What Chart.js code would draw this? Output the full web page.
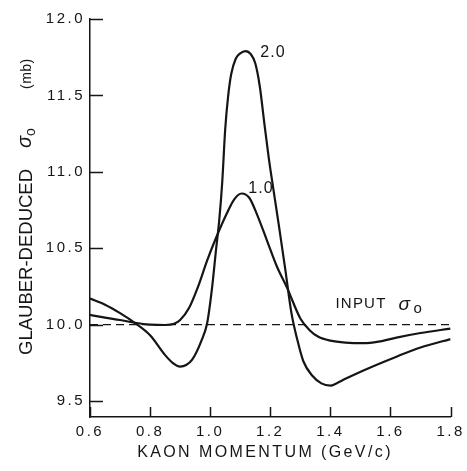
<!DOCTYPE html>
<html>
<head>
<meta charset="utf-8">
<script src="https://cdn.jsdelivr.net/npm/chart.js@4"></script>
<style>
html,body{margin:0;padding:0;background:#fff;}
#wrap{position:relative;width:467px;height:471px;}
</style>
</head>
<body>
<div id="wrap"><canvas id="c"></canvas></div>
<script>
// ---- data ----
const xTickValues = [0.6, 0.8, 1.0, 1.2, 1.4, 1.6, 1.8];
const yTickValues = [9.5, 10.0, 10.5, 11.0, 11.5, 12.0];

// curve labelled 2.0
const momentum20 = [0.60, 0.65, 0.70, 0.75, 0.80, 0.85, 0.875, 0.90, 0.92, 0.94, 0.97, 0.99, 1.005, 1.02, 1.03, 1.04, 1.05, 1.06, 1.07, 1.085, 1.10, 1.117, 1.135, 1.15, 1.165, 1.18, 1.195, 1.21, 1.23, 1.25, 1.27, 1.29, 1.31, 1.34, 1.37, 1.40, 1.42, 1.45, 1.51, 1.62, 1.70, 1.80];
const sigma20    = [10.17, 10.13, 10.075, 10.01, 9.93, 9.80, 9.75, 9.725, 9.735, 9.77, 9.89, 10.01, 10.22, 10.50, 10.68, 10.93, 11.28, 11.50, 11.64, 11.74, 11.775, 11.79, 11.77, 11.71, 11.56, 11.32, 11.09, 10.89, 10.63, 10.36, 10.08, 9.90, 9.76, 9.665, 9.615, 9.60, 9.615, 9.645, 9.70, 9.79, 9.85, 9.905];

// curve labelled 1.0
const momentum10 = [0.60, 0.65, 0.70, 0.75, 0.80, 0.85, 0.88, 0.90, 0.93, 0.96, 0.99, 1.02, 1.056, 1.08, 1.105, 1.13, 1.156, 1.189, 1.222, 1.256, 1.30, 1.33, 1.36, 1.40, 1.45, 1.51, 1.56, 1.62, 1.70, 1.80];
const sigma10    = [10.063, 10.045, 10.03, 10.012, 10.0, 9.997, 10.005, 10.03, 10.11, 10.25, 10.42, 10.57, 10.73, 10.82, 10.858, 10.83, 10.72, 10.55, 10.38, 10.24, 10.04, 9.965, 9.92, 9.895, 9.882, 9.878, 9.888, 9.915, 9.945, 9.974];

// input sigma_0 (dashed)
const inputMomentum = [0.6, 1.8];
const inputSigma    = [10.0, 10.0];

const xMin = 0.6, xMax = 1.8, yMin = 9.395, yMax = 12.0;

const toPts = (xs, ys) => xs.map((x, i) => ({x: x, y: ys[i]}));
const INK = '#151515';
const FONT = '"Liberation Sans", Arial, sans-serif';

const inkPlugin = {
  id: 'ink',
  beforeDraw(chart) {
    chart.ctx.letterSpacing = '2.5px';
  },
  afterDraw(chart) {
    const ctx = chart.ctx;
    const xs = chart.scales.x, ys = chart.scales.y;
    const a = chart.chartArea;
    ctx.save();
    ctx.strokeStyle = INK;
    ctx.lineWidth = 1.5;
    ctx.beginPath();
    yTickValues.forEach(v => {
      const py = Math.round(ys.getPixelForValue(v)) + 0.5;
      ctx.moveTo(a.left, py); ctx.lineTo(a.left + 13, py);
    });
    xTickValues.forEach(v => {
      const px = Math.round(xs.getPixelForValue(v)) + 0.5;
      ctx.moveTo(px, a.bottom); ctx.lineTo(px, a.bottom - 10);
    });
    ctx.stroke();

    ctx.fillStyle = INK;
    ctx.textBaseline = 'alphabetic';

    // x axis title
    ctx.font = '16px ' + FONT;
    ctx.letterSpacing = '2.4px';
    ctx.textAlign = 'center';
    ctx.fillText('KAON MOMENTUM (GeV/c)', 265, 457);

    // y axis title (rotated)
    ctx.save();
    ctx.translate(32, 355);
    ctx.rotate(-Math.PI / 2);
    ctx.textAlign = 'left';
    ctx.letterSpacing = '0px';
    ctx.font = '18.5px ' + FONT;
    ctx.fillText('GLAUBER-DEDUCED', 0, 0);
    ctx.font = 'italic 20px ' + FONT;
    ctx.fillText('σ', 207, -1);
    ctx.font = '14px ' + FONT;
    ctx.fillText('o', 219, 3);
    ctx.letterSpacing = '0.5px';
    ctx.fillText('(mb)', 266, -1);
    ctx.restore();

    // curve labels
    ctx.textAlign = 'left';
    ctx.font = '16px ' + FONT;
    ctx.letterSpacing = '1px';
    ctx.fillText('2.0', xs.getPixelForValue(1.167), ys.getPixelForValue(11.75));
    ctx.fillText('1.0', xs.getPixelForValue(1.127), ys.getPixelForValue(10.86));

    ctx.font = '15px ' + FONT;
    ctx.letterSpacing = '1.2px';
    ctx.fillText('INPUT', xs.getPixelForValue(1.417), ys.getPixelForValue(10.109));
    ctx.letterSpacing = '0px';
    ctx.font = 'italic 19px ' + FONT;
    ctx.fillText('σ', xs.getPixelForValue(1.627), ys.getPixelForValue(10.096));
    ctx.font = '15px ' + FONT;
    ctx.fillText('o', xs.getPixelForValue(1.677), ys.getPixelForValue(10.076));
    ctx.restore();
  }
};

new Chart(document.getElementById('c'), {
  type: 'line',
  data: {
    datasets: [
      {
        label: '2.0',
        data: toPts(momentum20, sigma20),
        borderColor: INK, borderWidth: 2.2, pointRadius: 0,
        cubicInterpolationMode: 'monotone', fill: false
      },
      {
        label: '1.0',
        data: toPts(momentum10, sigma10),
        borderColor: INK, borderWidth: 2.2, pointRadius: 0,
        cubicInterpolationMode: 'monotone', fill: false
      },
      {
        label: 'INPUT',
        data: toPts(inputMomentum, inputSigma),
        borderColor: INK, borderWidth: 1.3, pointRadius: 0,
        borderDash: [8, 5], fill: false, tension: 0
      }
    ]
  },
  options: {
    responsive: true,
    maintainAspectRatio: false,
    animation: false,
    devicePixelRatio: 1,
    layout: { padding: { left: 0, right: 16, top: 19, bottom: 0 } },
    plugins: { legend: { display: false }, tooltip: { enabled: false } },
    scales: {
      x: {
        type: 'linear', min: xMin, max: xMax,
        afterBuildTicks: s => { s.ticks = xTickValues.map(v => ({value: v})); },
        afterFit: s => { s.height = 54; },
        grid: { drawOnChartArea: false, drawTicks: false },
        border: { display: true, color: INK, width: 1.5 },
        ticks: {
          color: INK, padding: 6, maxRotation: 0, autoSkip: false,
          font: { family: FONT, size: 15 },
          callback: v => Number(v).toFixed(1)
        }
      },
      y: {
        type: 'linear', min: yMin, max: yMax,
        afterBuildTicks: s => { s.ticks = yTickValues.map(v => ({value: v})); },
        afterFit: s => { s.width = 90; },
        grid: { drawOnChartArea: false, drawTicks: false },
        border: { display: true, color: INK, width: 1.5 },
        ticks: {
          color: INK, padding: 5, autoSkip: false,
          font: { family: FONT, size: 15 },
          callback: v => Number(v).toFixed(1)
        }
      }
    }
  },
  plugins: [inkPlugin]
});
</script>
</body>
</html>
